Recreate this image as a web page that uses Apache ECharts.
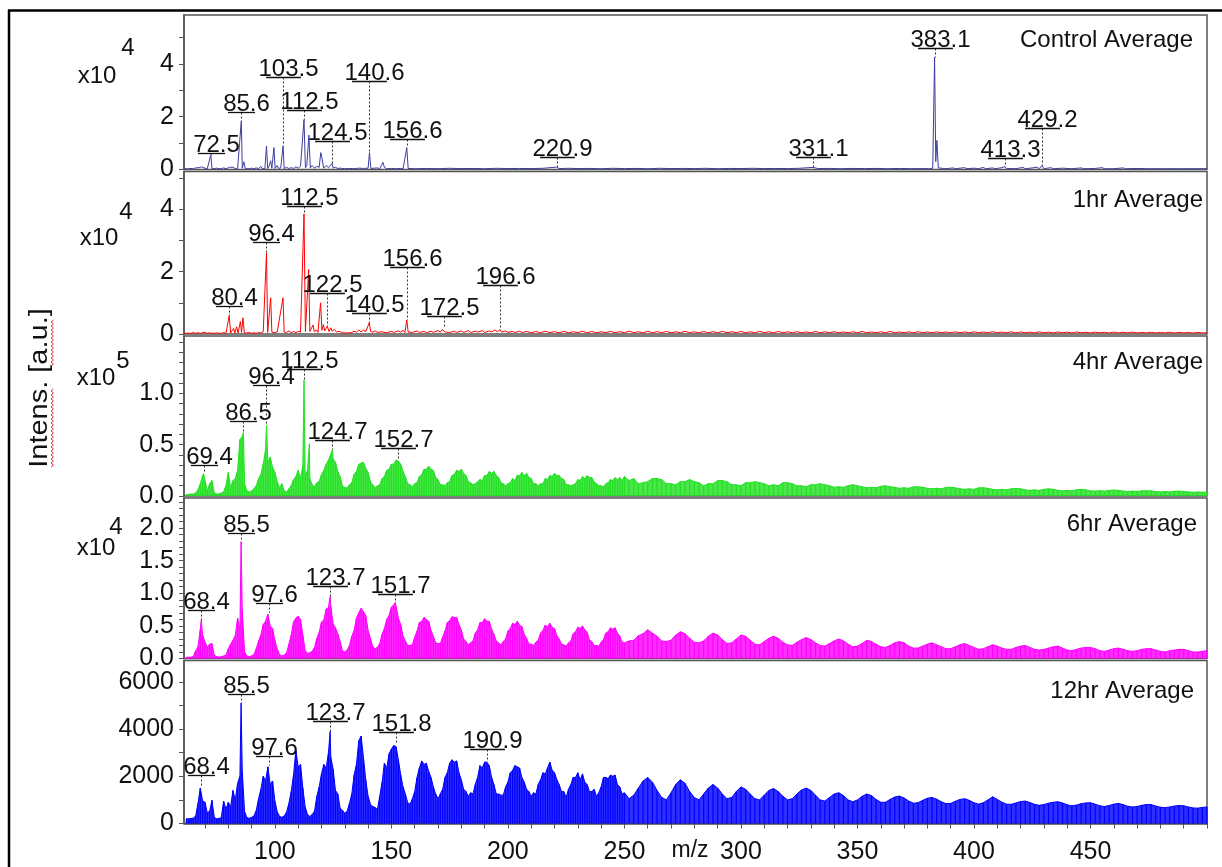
<!DOCTYPE html>
<html><head><meta charset="utf-8">
<script src="https://cdn.jsdelivr.net/npm/echarts@6/dist/echarts.min.js"></script>
<style>html,body{margin:0;padding:0;background:#fff}#c{width:1222px;height:867px}</style>
</head><body><div id="c"></div>
<script>
// ---------------- DATA ----------------
// Control Average (intensity in x10^4), [m/z, intensity]
const ctrlSpectrum = [
[61,.03],[62,.03],[63,.025],[64,.04],[65,.025],[66,.06],[66.5,.025],[67.5,.07],[68,.03],[68.5,.1],[69,.03],[70,.05],[71,.03],[72.5,.56],[73,.035],[74,.03],[75,.05],[76,.03],[77,.03],[78,.06],[79,.03],[80.5,.08],[81,.03],[82,.09],[83,.03],[84,.04],[85.6,1.85],[86,.05],[86.7,.29],[87.3,.03],[88,.04],[89,.03],[90,.05],[91,.03],[92,.06],[93,.03],[94,.12],[94.6,.03],[95.2,.1],[95.7,.03],[96.4,.89],[96.9,.04],[97.5,.13],[98.2,.33],[98.7,.05],[99.6,.83],[100.1,.04],[101,.15],[101.6,.04],[102.5,.06],[103,.03],[103.5,.89],[104,.04],[105,.08],[106,.04],[107,.07],[108,.04],[109,.1],[110,.05],[111,.12],[111.8,.05],[112.5,1.89],[113.1,.06],[113.7,.15],[114.6,1.3],[115.2,.06],[116,.15],[117,.05],[118,.12],[119,.08],[119.7,.64],[120.3,.4],[120.9,.05],[122,.15],[123,.07],[124.5,.23],[125,.06],[126,.08],[127,.04],[128,.05],[130,.03],[132,.04],[134,.03],[136,.05],[138,.04],[140,.05],[140.6,.64],[141.2,.04],[142,.05],[144,.06],[145,.03],[146.4,.27],[147,.08],[148,.03],[150,.04],[152,.03],[154,.04],[155,.03],[156.6,.83],[157.2,.04],[158,.03],
[160,.03],[165,.04],[170,.03],[175,.045],[180,.035],[185,.04],[190,.03],[195,.045],[200,.035],[205,.04],[210,.035],[215,.045],[220.9,.09],[222,.035],[226,.045],[230,.035],[235,.04],[240,.03],[245,.045],[250,.035],[255,.04],[260,.03],[265,.045],[270,.035],[275,.04],[280,.035],[285,.045],[290,.03],[295,.04],[300,.035],[305,.045],[310,.035],[315,.04],[320,.035],[325,.045],[331.1,.08],[333,.035],[338,.04],[343,.03],[348,.04],[353,.035],[358,.04],[363,.03],[368,.04],[373,.03],[378,.035],[381,.03],[382.3,.05],[383.1,4.25],[383.6,.3],[384.1,1.1],[384.7,.06],[385.5,.03],
[388,.03],[391,.06],[392,.03],[396,.07],[397,.03],[400,.05],[402,.03],[404,.08],[405,.03],[408,.06],[409,.03],[412,.07],[413.3,.11],[414,.03],[416,.04],[418,.03],[421,.08],[422,.03],[425,.06],[427,.09],[428,.03],[429.2,.15],[430,.03],[433,.07],[434,.03],[438,.05],[442,.03],[446,.06],[447,.03],[452,.04],[455,.07],[456,.03],[460,.03],[464,.06],[465,.03],[470,.04],[475,.03],[480,.03],[490,.03],[500,.03]
];
const ctrlLabels = [[72.5,.56],[85.6,1.85],[103.5,.89],[112.5,1.89],[124.5,.23],[140.6,.64],[156.6,.83],[220.9,.09],[331.1,.08],[383.1,4.25],[413.3,.11],[429.2,.15]];
const ctrlLabelLift = [2,9,69,10,22,72,9,10,10,9,9,38];

// 1hr Average (x10^4)
const hr1Spectrum = [
[61,.02],[63,.03],[64,.02],[65,.05],[66,.02],[67,.04],[68,.02],[70,.06],[71,.02],[72,.04],[73,.02],[75,.03],[77,.02],[78,.05],[79,.02],[80.4,.59],[81,.03],[81.7,.04],[82.3,.18],[82.8,.03],[83.6,.23],[84.2,.03],[85.2,.4],[85.7,.05],[86.3,.52],[86.9,.04],[88,.03],[89,.05],[90,.02],[91,.04],[92,.02],[93,.05],[94,.03],[95,.07],[95.8,.03],[96.4,2.6],[96.9,.05],[97.4,.08],[98.2,1.16],[98.7,.06],[99.5,.09],[100,.04],[101,.07],[101.8,.04],[103.5,1.16],[104,.06],[105,.05],[106,.1],[107,.04],[108,.08],[109,.04],[110,.09],[111,.06],[111.8,.08],[112.5,3.85],[113.1,.08],[113.7,.13],[114.5,2.07],[115,.08],[115.7,.1],[116.4,.29],[116.9,.07],[117.8,.13],[118.5,.05],[119.6,1.0],[120.2,.12],[120.8,.3],[121.4,.1],[122.5,.25],[123.2,.08],[124,.2],[124.6,.09],[125.5,.15],[126.5,.06],[127.5,.09],[129,.04],[131,.03],[133,.05],[134,.09],[135,.06],[136,.13],[137,.07],[138,.12],[139,.08],[140.5,.36],[141.1,.08],[142,.06],[143,.1],[144,.05],[146,.07],[148,.04],[150,.09],[151,.05],[153,.1],[154,.06],[155,.12],[155.8,.05],[156.6,.45],[157.2,.06],[158,.09],[159,.05],[161,.1],[162,.05],[164,.08],[165,.04],[167,.09],[168,.05],[170,.11],[171,.06],[171.8,.14],[172.5,.2],[173.2,.06],[174,.1],[175,.05],[177,.09],[178,.05],[180,.1],[181,.05],[183,.11],[184,.05],[186,.09],[187,.06],[189,.11],[190,.05],[192,.1],[193,.07],[194.5,.13],[195.5,.07],[196.6,.14],[197.3,.06],[199,.1],[200,.05],[202,.08],[203,.05],[205,.09],[206,.05],[208,.08],
[210,.04],[212,.08],[214,.04],[216,.09],[218,.045],[220,.075],[222,.04],[224,.085],[226,.04],[228,.07],[230,.045],[232,.09],[234,.04],[236,.08],[238,.04],[240,.07],[242,.045],[244,.085],[246,.04],[248,.075],[250,.04],[252,.09],[254,.045],[256,.07],[258,.04],[260,.085],[262,.04],[264,.075],[266,.045],[268,.08],[270,.04],[272,.07],[274,.04],[276,.085],[278,.045],[280,.07],[282,.04],[284,.08],[286,.04],[288,.075],[290,.04],[292,.085],[294,.04],[296,.07],[298,.045],[300,.08],[302,.04],[304,.07],[306,.04],[308,.085],[310,.045],[312,.07],[314,.04],[316,.08],[318,.04],[320,.07],[322,.04],[324,.075],[326,.04],[328,.065],[330,.04],[332,.08],[334,.04],[336,.07],[338,.04],[340,.075],[342,.04],[344,.065],[346,.04],[348,.07],[350,.04],[352,.08],[354,.04],[356,.065],[358,.04],[360,.07],[362,.04],[364,.08],[366,.04],[368,.065],[370,.04],[372,.07],[374,.04],[376,.075],[378,.04],[380,.065],[382,.04],[384,.07],[386,.04],[388,.065],[390,.04],[392,.07],[394,.04],[396,.065],[398,.04],[400,.07],[402,.04],[404,.065],[406,.04],[408,.075],[410,.04],[412,.06],[414,.04],[416,.07],[418,.035],[420,.065],[422,.04],[424,.06],[426,.035],[428,.07],[430,.04],[432,.06],[434,.035],[436,.065],[438,.04],[440,.06],[442,.035],[444,.065],[446,.04],[448,.055],[450,.035],[452,.06],[454,.04],[456,.055],[458,.035],[460,.06],[462,.035],[464,.055],[466,.035],[468,.06],[470,.035],[472,.05],[474,.035],[476,.055],[478,.035],[480,.05],[482,.035],[484,.055],[486,.03],[488,.05],[490,.035],[492,.05],[494,.03],[496,.05],[498,.035],[500,.04]
];
const hr1Labels = [[80.4,.59],[96.4,2.6],[112.5,3.85],[122.5,.25],[140.5,.36],[156.6,.45],[172.5,.2],[196.6,.14]];
const hr1LabelLift = [10,11,8,33,10,53,12,45];

// Dense spectra: head sampled at m/z 62..249 (step 1), tail at 250..500 (step 2)
const HEAD_START = 62, HEAD_STEP = 1, TAIL_START = 250, TAIL_STEP = 2;

// 4hr Average (x10^5)
const hr4Head = [
.015,.015,.02,.02,.03,.06,.12,.2,.15,.05,.12,.15,.03,.02,.02,.03,.04,.1,.23,.08,
.15,.17,.25,.55,.58,.12,.05,.04,.05,.07,.1,.17,.21,.31,.45,.33,.38,.28,.23,.14,
.08,.12,.05,.04,.07,.1,.16,.19,.25,.17,.3,.2,.25,.17,.11,.09,.13,.14,.21,.25,
.31,.35,.41,.36,.33,.24,.19,.1,.08,.08,.11,.13,.21,.24,.31,.32,.33,.27,.23,.14,
.11,.08,.1,.11,.17,.19,.25,.26,.31,.31,.35,.34,.31,.24,.19,.12,.11,.09,.12,.13,
.19,.21,.26,.26,.29,.26,.25,.18,.16,.11,.11,.1,.13,.14,.2,.21,.25,.24,.26,.22,
.2,.14,.13,.11,.12,.14,.16,.15,.2,.2,.24,.22,.24,.2,.18,.13,.12,.1,.12,.13,
.17,.15,.2,.2,.23,.2,.22,.18,.17,.12,.12,.1,.12,.12,.17,.16,.2,.19,.22,.2,
.2,.17,.16,.11,.11,.1,.11,.12,.16,.15,.19,.17,.2,.18,.18,.14,.12,.1,.1,.09,
.12,.13,.16,.15,.18,.16,.18,.15
];
const hr4Tail = [
.19,.15,.17,.12,.13,.14,.17,.17,.16,.12,.12,.11,.14,.14,.16,.14,.13,.1,.12,.12,
.15,.15,.14,.11,.11,.1,.13,.13,.14,.13,.12,.1,.11,.1,.13,.13,.12,.1,.1,.09,
.11,.11,.12,.11,.1,.085,.09,.085,.1,.11,.1,.09,.08,.085,.08,.095,.1,.09,.085,.075,
.08,.075,.09,.09,.085,.075,.07,.075,.07,.085,.085,.08,.07,.065,.07,.065,.08,.08,.075,.065,
.06,.065,.06,.07,.075,.07,.06,.055,.06,.055,.065,.07,.065,.055,.05,.055,.05,.06,.065,.06,
.05,.048,.052,.048,.055,.058,.055,.048,.044,.048,.044,.05,.052,.05,.044,.04,.044,.04,.046,.048,
.045,.04,.037,.04,.037,.04
];
const hr4Sticks = [[69.4,.22],[86.5,.62],[96.4,.69],[112.5,1.13],[114.8,.51],[124.7,.45],[152.7,.36]];
const hr4Labels = [[69.4,.22],[86.5,.62],[96.4,.69],[112.5,1.13],[124.7,.45],[152.7,.36]];
const hr4LabelLift = [8,11,40,11,10,11];

// 6hr Average (x10^4)
const hr6Head = [
.02,.02,.02,.03,.12,.18,.45,.36,.25,.18,.22,.23,.05,.03,.02,.03,.04,.05,.15,.22,
.28,.35,.62,.45,.73,.1,.04,.03,.04,.06,.15,.27,.36,.52,.57,.68,.5,.46,.28,.15,
.06,.04,.05,.09,.22,.36,.56,.62,.65,.6,.36,.12,.08,.09,.11,.17,.31,.4,.56,.59,
.76,.78,.8,.53,.47,.38,.26,.12,.1,.13,.2,.34,.43,.62,.7,.77,.72,.66,.43,.31,
.18,.15,.17,.23,.37,.46,.6,.66,.79,.82,.8,.62,.52,.34,.27,.2,.2,.21,.33,.42,
.55,.57,.63,.6,.57,.43,.34,.24,.23,.23,.33,.42,.55,.58,.64,.63,.63,.52,.44,.3,
.26,.21,.24,.27,.39,.44,.55,.55,.61,.57,.57,.45,.37,.27,.24,.21,.26,.3,.42,.46,
.54,.52,.57,.51,.49,.37,.31,.22,.22,.2,.25,.28,.39,.43,.51,.49,.54,.48,.46,.35,
.3,.22,.21,.19,.24,.27,.38,.41,.48,.46,.5,.44,.4,.29,.26,.2,.2,.19,.25,.29,
.39,.41,.47,.45,.47,.39,.35,.25
];
const hr6Tail = [
.24,.27,.28,.35,.38,.44,.39,.34,.27,.26,.28,.36,.41,.38,.31,.25,.24,.27,.34,.39,
.36,.29,.23,.24,.3,.36,.34,.28,.22,.21,.26,.31,.34,.31,.25,.21,.2,.25,.29,.32,
.29,.24,.2,.19,.23,.27,.3,.27,.22,.18,.19,.23,.28,.26,.22,.18,.17,.2,.24,.26,
.24,.19,.16,.16,.19,.22,.24,.21,.18,.15,.15,.18,.21,.23,.2,.17,.14,.15,.18,.21,
.19,.16,.14,.14,.17,.19,.2,.17,.14,.13,.14,.16,.18,.19,.16,.13,.12,.14,.16,.17,
.17,.15,.12,.11,.13,.15,.16,.14,.12,.11,.12,.14,.15,.15,.13,.11,.1,.12,.13,.14,
.14,.12,.1,.1,.11,.12
];
const hr6Sticks = [[68.4,.59],[85.5,1.79],[97.6,.7],[123.7,.95],[151.7,.86]];
const hr6Labels = [[68.4,.59],[85.5,1.79],[97.6,.7],[123.7,.95],[151.7,.86]];
const hr6LabelLift = [10,9,10,11,8];

// 12hr Average (counts)
const hr12Head = [
200,200,210,230,320,850,1500,950,900,450,520,980,260,200,210,250,950,600,900,700,
1400,1000,1700,2000,2200,500,250,220,260,320,550,1050,1450,2000,1800,2400,1650,1800,950,500,
300,260,320,480,850,1350,2050,3100,2400,2500,1500,700,380,300,380,520,1150,1550,2100,2500,
2350,3000,2800,2300,1400,1250,650,560,430,520,850,1250,2050,2500,3500,3700,2800,1850,1150,820,
720,680,600,1150,1750,2550,2350,2950,3150,3300,3250,2700,2050,1550,1250,880,820,1050,1350,1950,
2350,2650,2500,2550,2200,1950,1550,1250,1050,1250,1450,1950,2150,2550,2700,2600,2650,2150,1850,1450,
1350,1150,1300,1250,1650,1950,2450,2350,2600,2550,2450,1950,1650,1250,1250,1200,1200,1550,1750,2150,
2250,2450,2400,2350,1950,1750,1450,1350,1150,1300,1250,1650,1850,2150,2100,2350,2600,2250,2150,1850,
1650,1350,1350,1100,1450,1650,1950,1950,2150,1850,2100,1750,1650,1350,1350,1450,1150,1300,1550,1950,
1950,1900,2050,2000,2050,1650,1550,1250
];
const hr12Tail = [
1300,1050,1200,1500,1800,1950,1750,1400,1100,1000,1300,1650,1850,1700,1350,1100,1000,1250,1500,1650,
1500,1250,1050,1100,1350,1550,1450,1250,1050,1000,1200,1400,1480,1350,1150,1000,1050,1250,1420,1500,
1400,1200,1000,950,1100,1250,1300,1180,1000,920,1000,1150,1250,1180,1020,900,900,1020,1120,1160,
1080,950,860,880,980,1070,1100,1030,920,840,850,940,1020,1050,980,880,820,880,1000,1130,
1020,900,820,810,870,930,950,890,810,770,800,860,900,920,870,790,750,780,840,870,
880,820,750,720,760,820,850,800,730,700,720,770,800,800,740,690,670,700,740,760,
750,700,660,650,680,700
];
const hr12Sticks = [[68.4,1580],[85.5,5100],[97.6,2450],[123.7,3900],[151.8,3350],[190.9,2600]];
const hr12Labels = [[68.4,1580],[85.5,5100],[97.6,2450],[123.7,3900],[151.8,3350],[190.9,2600]];
const hr12LabelLift = [11,9,10,10,12,13];

// Axis ticks and labels
const xTicks = [70,80,90,100,110,120,130,140,150,160,170,180,190,200,210,220,230,240,250,260,270,280,290,300,310,320,330,340,350,360,370,380,390,400,410,420,430,440,450,460,470,480,490,500];
const xTickLabels = [100,150,200,250,300,350,400,450];
const ctrlYTicks = [0,1,2,3,4,5], ctrlYLabels = [0,2,4];
const hr1YTicks = [0,1,2,3,4,5], hr1YLabels = [0,2,4];
const hr4YTicks = [0,.1,.2,.3,.4,.5,.6,.7,.8,.9,1,1.1,1.2,1.3,1.4,1.5], hr4YLabels = [0,.5,1];
const hr6YTicks = [0,.1,.2,.3,.4,.5,.6,.7,.8,.9,1,1.1,1.2,1.3,1.4,1.5,1.6,1.7,1.8,1.9,2,2.1,2.2,2.3,2.4], hr6YLabels = [0,.5,1,1.5,2];
const hr12YTicks = [0,1000,2000,3000,4000,5000,6000], hr12YLabels = [0,2000,4000,6000];
const panelTitles = ['Control Average','1hr Average','4hr Average','6hr Average','12hr Average'];
const panelExponents = ['4','4','5','4',null];

// ---------------- LAYOUT / STYLE ----------------
const FONT = '"Liberation Sans", Arial, sans-serif';
const LABEL_FS = 24;
const TICK_FS = 25;
const XMIN = 61, XMAX = 500;
const GRIDS = [
  {top:15, height:154.5, ymax:5.85},
  {top:171.5, height:162.5, ymax:5.21},
  {top:336, height:160, ymax:1.56},
  {top:498, height:160.5, ymax:2.46},
  {top:660.5, height:163, ymax:6900}
];
const COLORS = ['#3d3d9f','#ff0000','#22e022','#ff00ff','#0000ff'];
const Y_TICKS = [ctrlYTicks, hr1YTicks, hr4YTicks, hr6YTicks, hr12YTicks];
const Y_LABELS = [ctrlYLabels, hr1YLabels, hr4YLabels, hr6YLabels, hr12YLabels];
const Y_FMT = [v=>String(v), v=>String(v), v=>v.toFixed(1), v=>v.toFixed(1), v=>String(v)];
const TITLE_POS = [[1193,40],[1203,200],[1203,362],[1197,524],[1194,691]];
const EXP_POS = [[[97,76],[128,48]],[[99,238],[126,212]],[[96,378],[123,361]],[[96,548],[116,527]]];
const STICK_W = 1.2;

const LABELS = [[ctrlLabels,ctrlLabelLift],[hr1Labels,hr1LabelLift],[hr4Labels,hr4LabelLift],[hr6Labels,hr6LabelLift],[hr12Labels,hr12LabelLift]];

function labelSeries(idx, peaks, lifts){
  return {
    type:'custom', xAxisIndex:idx, yAxisIndex:idx, z:20, silent:true, clip:false, animation:false,
    data: peaks.map((p,i)=>[p[0],p[1],lifts[i]]),
    renderItem:function(params, api){
      const mz=api.value(0), h=api.value(1), lift=api.value(2);
      const pt=api.coord([mz,h]);
      const txt=mz.toFixed(1);
      const tw=(txt.length-1)*0.556*LABEL_FS+0.278*LABEL_FS;
      const uw=tw*0.58;
      const uy=Math.round(pt[1]-lift)+0.5;
      const px=Math.round(pt[0])+0.5;
      return {type:'group', children:[
        {type:'line', shape:{x1:px,y1:uy,x2:px,y2:pt[1]}, style:{stroke:'#333', lineWidth:1, lineDash:[2,2]}},
        {type:'line', shape:{x1:px-uw/2,y1:uy,x2:px+uw/2,y2:uy}, style:{stroke:'#111', lineWidth:1.3}},
        {type:'text', x:px+5, y:uy+0.2*LABEL_FS-1, style:{text:txt, font:LABEL_FS+'px '+FONT, fill:'#111', textAlign:'center', textVerticalAlign:'bottom'}}
      ]};
    }
  };
}
// vertical sticks from the axis zero up to each sampled value
function stickSeries(idx, pts, width, color){
  return {
    type:'custom', xAxisIndex:idx, yAxisIndex:idx, z:6, silent:true, animation:false,
    data: pts,
    renderItem:function(params, api){
      const top=api.coord([api.value(0), api.value(1)]);
      const base=api.coord([api.value(0), 0]);
      return {type:'rect', shape:{x:top[0]-width/2, y:top[1], width:width, height:base[1]-top[1]}, style:{fill:color}};
    }
  };
}

const option = {
  animation:false,
  backgroundColor:'#fff',
  grid: GRIDS.map(g=>({left:184, right:15, top:g.top, height:g.height, show:true, borderColor:'#555', borderWidth:1.5, backgroundColor:'transparent'})),
  xAxis: GRIDS.map((g,i)=>({
    type:'value', gridIndex:i, min:XMIN, max:XMAX, splitLine:{show:false},
    axisLine:{show:i===4, onZero:false, lineStyle:{color:'#555', width:1.5}},
    axisTick:{show:i===4, customValues:xTicks, length:5, lineStyle:{color:'#555'}},
    axisLabel:{show:i===4, customValues:xTickLabels, fontSize:TICK_FS, fontFamily:FONT, color:'#111', margin:16}
  })),
  yAxis: GRIDS.map((g,i)=>({
    type:'value', gridIndex:i, min:0, max:g.ymax, splitLine:{show:false},
    axisLine:{show:true, onZero:false, lineStyle:{color:'#555', width:1.5}},
    axisTick:{show:true, customValues:Y_TICKS[i], length:5, lineStyle:{color:'#555'}},
    axisLabel:{show:true, customValues:Y_LABELS[i], formatter:Y_FMT[i], fontSize:TICK_FS, fontFamily:FONT, color:'#111', margin:10}
  })),
  series: [],
  graphic: []
};
// sparse spectra as thin lines
[ctrlSpectrum, hr1Spectrum].forEach((d,i)=>{
  option.series.push({
    type:'line', xAxisIndex:i, yAxisIndex:i, data:d, showSymbol:false, symbol:'none', silent:true, z:5,
    lineStyle:{color:COLORS[i], width:1}, itemStyle:{color:COLORS[i]}, animation:false
  });
});
// dense spectra: filled trace plus individual sticks
[[hr4Head,hr4Tail,hr4Sticks],[hr6Head,hr6Tail,hr6Sticks],[hr12Head,hr12Tail,hr12Sticks]].forEach((set,k)=>{
  const i=k+2;
  const head=set[0].map((v,j)=>[HEAD_START+HEAD_STEP*j, v]);
  const tail=set[1].map((v,j)=>[TAIL_START+TAIL_STEP*j, v]);
  const all=head.concat(tail, set[2]).sort((a,b)=>a[0]-b[0]);
  option.series.push({
    type:'line', xAxisIndex:i, yAxisIndex:i, data:all, showSymbol:false, symbol:'none', silent:true, z:5,
    lineStyle:{color:COLORS[i], width:1}, itemStyle:{color:COLORS[i]},
    areaStyle:{color:COLORS[i], opacity:0.82}, animation:false
  });
  option.series.push(stickSeries(i, head.concat(tail), STICK_W, COLORS[i]));
});
LABELS.forEach((l,i)=>option.series.push(labelSeries(i, l[0], l[1])));

const G = option.graphic;
// outer frame
G.push({type:'line', shape:{x1:8,y1:10.5,x2:1222,y2:10.5}, style:{stroke:'#000', lineWidth:2.5}});
G.push({type:'line', shape:{x1:9,y1:10,x2:9,y2:867}, style:{stroke:'#000', lineWidth:2.5}});
// titles
panelTitles.forEach((t,i)=>G.push({type:'text', x:TITLE_POS[i][0], y:TITLE_POS[i][1], style:{text:t, font:'24px '+FONT, fill:'#111', textAlign:'right', textVerticalAlign:'middle'}}));
// exponents
panelExponents.forEach((e,i)=>{
  if(!e) return;
  G.push({type:'text', x:EXP_POS[i][0][0], y:EXP_POS[i][0][1], style:{text:'x10', font:'24px '+FONT, fill:'#111', textAlign:'center', textVerticalAlign:'middle'}});
  G.push({type:'text', x:EXP_POS[i][1][0], y:EXP_POS[i][1][1], style:{text:e, font:'24px '+FONT, fill:'#111', textAlign:'center', textVerticalAlign:'middle'}});
});
// y axis name (stretched along its reading direction like the source)
G.push({type:'text', x:40, y:388, rotation:Math.PI/2, scaleX:1.16, style:{text:'Intens. [a.u.]', font:'25px '+FONT, fill:'#111', textAlign:'center', textVerticalAlign:'middle'}});
// spell-check squiggles under "Intens" and "a.u."
function squiggle(x, y1, y2){
  const pts=[]; let k=0;
  for(let y=y2; y>=y1; y-=2){ pts.push([x+(k%2?2.5:0), y]); k++; }
  return {type:'polyline', shape:{points:pts}, style:{stroke:'#e83030', lineWidth:1, fill:null}};
}
G.push(squiggle(51, 389, 467));
G.push(squiggle(51, 320, 366));
// x axis name
G.push({type:'text', x:690, y:851, style:{text:'m/z', font:'23px '+FONT, fill:'#111', textAlign:'center', textVerticalAlign:'middle'}});

const chart = echarts.init(document.getElementById('c'));
chart.setOption(option);
</script></body></html>
